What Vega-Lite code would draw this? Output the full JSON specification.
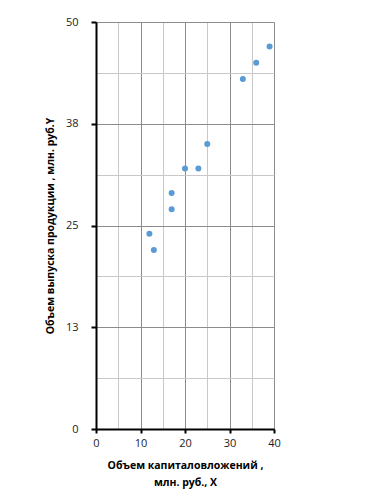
{
  "$schema": "https://vega.github.io/schema/vega-lite/v6.json",
  "width": 178,
  "height": 407,
  "autosize": {"type": "none"},
  "padding": {"left": 96, "top": 22, "right": 95, "bottom": 67},
  "background": "white",
  "config": {
    "view": {"stroke": null},
    "font": "Open Sans"
  },
  "data": {
    "values": [
      {"x": 12, "y": 24},
      {"x": 13, "y": 22},
      {"x": 17, "y": 29},
      {"x": 17, "y": 27},
      {"x": 20, "y": 32},
      {"x": 23, "y": 32},
      {"x": 25, "y": 35},
      {"x": 33, "y": 43},
      {"x": 36, "y": 45},
      {"x": 39, "y": 47}
    ]
  },
  "mark": {"type": "point", "filled": true, "size": 36, "opacity": 1, "color": "#5B9BD5"},
  "encoding": {
    "x": {
      "field": "x",
      "type": "quantitative",
      "scale": {"domain": [0, 40], "nice": false, "zero": true},
      "axis": {
        "values": [0, 5, 10, 15, 20, 25, 30, 35, 40],
        "labelExpr": "datum.value % 10 === 0 ? datum.label : ''",
        "grid": true,
        "gridColor": {"condition": {"test": "datum.value % 10 === 0", "value": "#8c8c8c"}, "value": "#c8c8c8"},
        "gridWidth": 1,
        "gridOpacity": 1,
        "domainColor": "#000000",
        "domainWidth": 2,
        "tickColor": "#000000",
        "tickWidth": 2,
        "tickSize": {"condition": {"test": "datum.value % 10 === 0", "value": 4}, "value": 0},
        "labelPadding": 4,
        "labelFontSize": 11,
        "labelColor": "#222222",
        "labelFont": "Open Sans",
        "labelFlush": false,
        "title": ["Объем капиталовложений ,", "млн. руб., X"],
        "titleFont": "Open Sans",
        "titleFontSize": 10.5,
        "titleFontWeight": "bold",
        "titleColor": "#000000",
        "titlePadding": 12,
        "titleLineHeight": 17
      }
    },
    "y": {
      "field": "y",
      "type": "quantitative",
      "scale": {"domain": [0, 50], "nice": false, "zero": true},
      "axis": {
        "values": [0, 6.25, 12.5, 18.75, 25, 31.25, 37.5, 43.75, 50],
        "labelExpr": "datum.value % 12.5 === 0 ? format(datum.value, '.0f') : ''",
        "grid": true,
        "gridColor": {"condition": {"test": "datum.value % 12.5 === 0", "value": "#8c8c8c"}, "value": "#c8c8c8"},
        "gridWidth": 1,
        "gridOpacity": 1,
        "domainColor": "#000000",
        "domainWidth": 2,
        "tickColor": "#000000",
        "tickWidth": 2,
        "tickSize": {"condition": {"test": "datum.value % 12.5 === 0", "value": 5}, "value": 0},
        "labelPadding": 13,
        "labelFontSize": 11,
        "labelColor": "#222222",
        "labelFont": "Open Sans",
        "labelFlush": false,
        "title": "Объем выпуска продукции , млн. руб.Y",
        "titleFont": "Open Sans",
        "titleFontSize": 10.5,
        "titleFontWeight": "bold",
        "titleColor": "#000000",
        "titlePadding": 10
      }
    }
  }
}
